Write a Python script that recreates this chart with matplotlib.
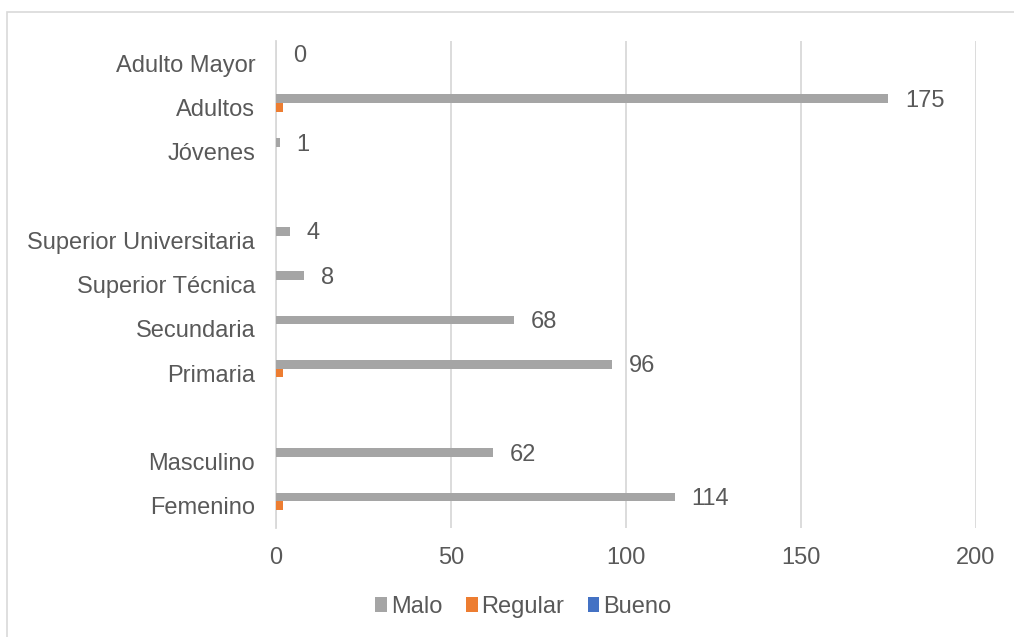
import numpy as np
import matplotlib
matplotlib.use("Agg")
import matplotlib.pyplot as plt
from matplotlib.patches import Rectangle

# categories bottom -> top, blank rows separate the groups
categories = ["Femenino", "Masculino", "", "Primaria", "Secundaria", "Superior Técnica",
              "Superior Universitaria", "", "Jóvenes", "Adultos", "Adulto Mayor"]
malo = [114, 62, None, 96, 68, 8, 4, None, 1, 175, 0]
regular = [2, 0, None, 2, 0, 0, 0, None, 0, 2, 0]
bueno = [0, 0, None, 0, 0, 0, 0, None, 0, 0, 0]
series_names = ["Malo", "Regular", "Bueno"]
x_ticks = [0, 50, 100, 150, 200]

colors = ["#A5A5A5", "#ED7D31", "#4472C4"]
text_col = "#595959"
grid_col = "#D9D9D9"

plt.rcParams['font.family'] = ['Liberation Sans', 'DejaVu Sans']

fig = plt.figure(figsize=(10.14, 6.37), dpi=100)
ax = fig.add_axes([0.2722, 0.1711, 0.6903, 0.7645])

y = np.arange(len(categories))
h = 0.2
def clean(v):
    return np.array([np.nan if a is None else a for a in v], dtype=float)

m = clean(malo)
r = clean(regular)
b = clean(bueno)
ax.barh(y + h, m, height=h, color=colors[0], label=series_names[0], zorder=3)
ax.barh(y, r, height=h, color=colors[1], label=series_names[1], zorder=3)
ax.barh(y - h, b, height=h, color=colors[2], label=series_names[2], zorder=3)

for yi, v in zip(y, malo):
    if v is None:
        continue
    ax.annotate(str(v), xy=(v, yi + h), xytext=(12, -1.5), textcoords="offset points",
                ha="left", va="center", fontsize=17, color=text_col)

ax.set_xlim(0, 200)
ax.set_ylim(-0.5, len(categories) - 0.5)
ax.set_xticks(x_ticks)
ax.set_xticklabels([str(t) for t in x_ticks])
ax.set_yticks(y)
ax.set_yticklabels(categories)
ax.tick_params(axis="both", length=0, labelsize=17, labelcolor=text_col)
ax.tick_params(axis="y", pad=15)
ax.tick_params(axis="x", pad=14)
ax.grid(axis="x", color=grid_col, linewidth=1.3, zorder=0)
for s in ["top", "right", "bottom"]:
    ax.spines[s].set_visible(False)
ax.spines["left"].set_color(grid_col)
ax.spines["left"].set_linewidth(1.3)

fig.legend(loc="center", bbox_to_anchor=(0.516, 0.047), ncol=3, frameon=False,
           fontsize=17, labelcolor=text_col, handlelength=0.5, handleheight=0.6,
           handletextpad=0.15, columnspacing=1.0)

fig.patches.append(Rectangle((0.0069, -0.05), 1.1, 0.9812 + 0.05, transform=fig.transFigure,
                             fill=False, edgecolor=grid_col, linewidth=1.2))

fig.savefig("out.png", dpi=100)
